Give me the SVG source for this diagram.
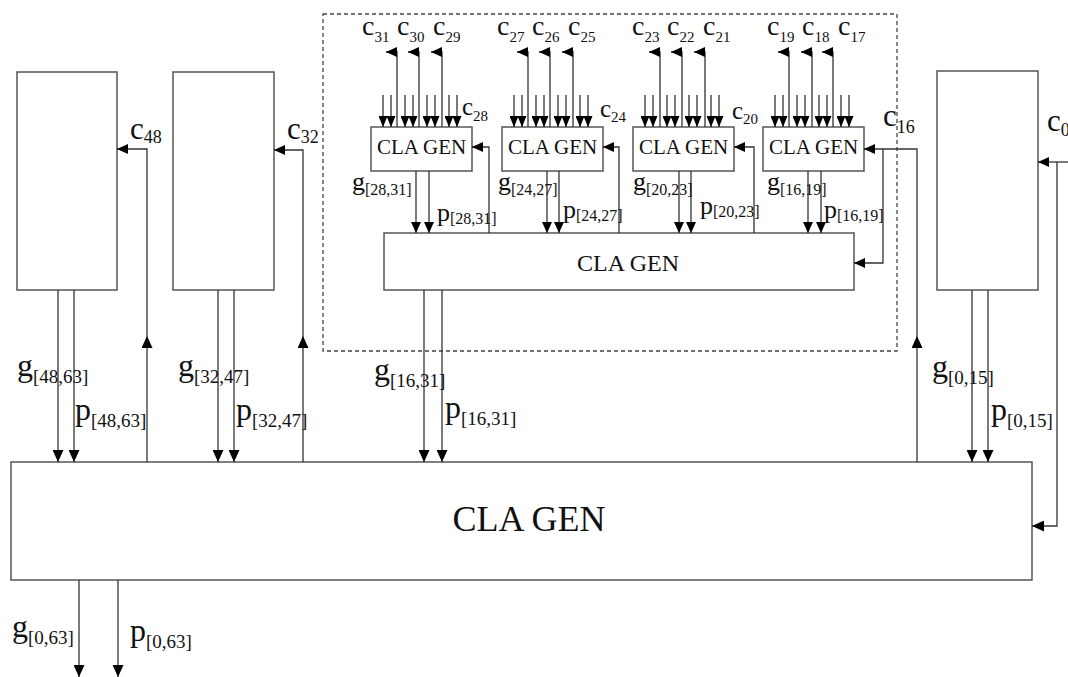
<svg xmlns="http://www.w3.org/2000/svg" width="1068" height="677" viewBox="0 0 1068 677">
<style>
.bx{fill:#fff;stroke:#555;stroke-width:1.5}
.ln{fill:none;stroke:#333;stroke-width:1.3}
.dash{fill:none;stroke:#444;stroke-width:1.3;stroke-dasharray:4 3}
.t{font-family:"Liberation Serif","Times New Roman",serif;fill:#111}
.m{text-anchor:middle}
</style>
<defs>
<marker id="ah" viewBox="0 0 12 11" refX="12" refY="5.5" markerWidth="12" markerHeight="11" markerUnits="userSpaceOnUse" orient="auto"><path d="M0,0 L12,5.5 L0,11 z" fill="#000"/></marker>
<marker id="am" viewBox="0 0 11 10" refX="11" refY="5" markerWidth="11" markerHeight="10" markerUnits="userSpaceOnUse" orient="auto"><path d="M0,0 L11,5 L0,10 z" fill="#000"/></marker>
<marker id="ai" viewBox="0 0 11 9" refX="11" refY="4.5" markerWidth="11" markerHeight="9" markerUnits="userSpaceOnUse" orient="auto"><path d="M0,0 L11,4.5 L0,9 z" fill="#000"/></marker>
</defs>
<rect width="1068" height="677" fill="#fff"/>

<rect id="dashed-group" class="dash" x="323" y="14" width="574" height="337"/>

<g id="block-48-63"><rect class="bx" x="17" y="72" width="100" height="218"/></g>
<g id="block-32-47"><rect class="bx" x="173" y="72" width="101" height="218"/></g>
<g id="block-0-15"><rect class="bx" x="937" y="71" width="101" height="219"/></g>
<g id="cla-main"><rect class="bx" x="11" y="462" width="1021" height="118"/><text class="t m" x="529" y="531" font-size="36">CLA GEN</text></g>
<g id="cla-mid"><rect class="bx" x="384" y="233" width="470" height="57"/><text class="t m" x="628" y="271" font-size="24">CLA GEN</text></g>
<g id="cla-28-31"><rect class="bx" x="371" y="127" width="101" height="44"/><text class="t m" x="421.5" y="154" font-size="21">CLA GEN</text></g>
<g id="cla-24-27"><rect class="bx" x="502" y="127" width="101" height="44"/><text class="t m" x="552.5" y="154" font-size="21">CLA GEN</text></g>
<g id="cla-20-23"><rect class="bx" x="633" y="127" width="101" height="44"/><text class="t m" x="683.5" y="154" font-size="21">CLA GEN</text></g>
<g id="cla-16-19"><rect class="bx" x="763" y="127" width="101" height="44"/><text class="t m" x="813.5" y="154" font-size="21">CLA GEN</text></g>

<g id="connectors">
<!-- inputs to small boxes -->
<path class="ln" marker-end="url(#ai)" d="M383,95V127"/><path class="ln" marker-end="url(#ai)" d="M391,95V127"/>
<path class="ln" marker-end="url(#ai)" d="M405,95V127"/><path class="ln" marker-end="url(#ai)" d="M413,95V127"/>
<path class="ln" marker-end="url(#ai)" d="M427,95V127"/><path class="ln" marker-end="url(#ai)" d="M435,95V127"/>
<path class="ln" marker-end="url(#ai)" d="M449,95V127"/><path class="ln" marker-end="url(#ai)" d="M457,95V127"/>
<path class="ln" marker-end="url(#ai)" d="M514,95V127"/><path class="ln" marker-end="url(#ai)" d="M522,95V127"/>
<path class="ln" marker-end="url(#ai)" d="M536,95V127"/><path class="ln" marker-end="url(#ai)" d="M544,95V127"/>
<path class="ln" marker-end="url(#ai)" d="M558,95V127"/><path class="ln" marker-end="url(#ai)" d="M566,95V127"/>
<path class="ln" marker-end="url(#ai)" d="M580,95V127"/><path class="ln" marker-end="url(#ai)" d="M588,95V127"/>
<path class="ln" marker-end="url(#ai)" d="M645,95V127"/><path class="ln" marker-end="url(#ai)" d="M653,95V127"/>
<path class="ln" marker-end="url(#ai)" d="M667,95V127"/><path class="ln" marker-end="url(#ai)" d="M675,95V127"/>
<path class="ln" marker-end="url(#ai)" d="M689,95V127"/><path class="ln" marker-end="url(#ai)" d="M697,95V127"/>
<path class="ln" marker-end="url(#ai)" d="M711,95V127"/><path class="ln" marker-end="url(#ai)" d="M719,95V127"/>
<path class="ln" marker-end="url(#ai)" d="M775,95V127"/><path class="ln" marker-end="url(#ai)" d="M783,95V127"/>
<path class="ln" marker-end="url(#ai)" d="M797,95V127"/><path class="ln" marker-end="url(#ai)" d="M805,95V127"/>
<path class="ln" marker-end="url(#ai)" d="M819,95V127"/><path class="ln" marker-end="url(#ai)" d="M827,95V127"/>
<path class="ln" marker-end="url(#ai)" d="M841,95V127"/><path class="ln" marker-end="url(#ai)" d="M849,95V127"/>
<!-- carry outputs from small boxes -->
<path class="ln" marker-end="url(#am)" d="M397,127V52H386"/><path class="ln" marker-end="url(#am)" d="M419,127V52H408"/><path class="ln" marker-end="url(#am)" d="M442,127V52H431"/>
<path class="ln" marker-end="url(#am)" d="M528,127V52H517"/><path class="ln" marker-end="url(#am)" d="M550,127V52H539"/><path class="ln" marker-end="url(#am)" d="M573,127V52H562"/>
<path class="ln" marker-end="url(#am)" d="M660,127V52H649"/><path class="ln" marker-end="url(#am)" d="M682,127V52H671"/><path class="ln" marker-end="url(#am)" d="M705,127V52H694"/>
<path class="ln" marker-end="url(#am)" d="M789,127V52H778"/><path class="ln" marker-end="url(#am)" d="M812,127V52H801"/><path class="ln" marker-end="url(#am)" d="M833,127V52H822"/>
<!-- g/p from small boxes to mid box -->
<path class="ln" marker-end="url(#am)" d="M416,171V233"/><path class="ln" marker-end="url(#am)" d="M429,171V233"/>
<path class="ln" marker-end="url(#am)" d="M547,171V233"/><path class="ln" marker-end="url(#am)" d="M559,171V233"/>
<path class="ln" marker-end="url(#am)" d="M679,171V233"/><path class="ln" marker-end="url(#am)" d="M691,171V233"/>
<path class="ln" marker-end="url(#am)" d="M808,171V233"/><path class="ln" marker-end="url(#am)" d="M821,171V233"/>
<!-- carries from mid box to small boxes -->
<path class="ln" marker-end="url(#am)" d="M489,233V147H472"/>
<path class="ln" marker-end="url(#am)" d="M619,233V147H603"/>
<path class="ln" marker-end="url(#am)" d="M754,233V147H734"/>
<!-- c16 -->
<path class="ln" marker-end="url(#ah)" d="M917,462V336"/>
<path class="ln" marker-end="url(#am)" d="M917,336V149H864"/>
<path class="ln" marker-end="url(#am)" d="M883,149V263H854"/>
<!-- c0 -->
<path class="ln" marker-end="url(#am)" d="M1068,162H1038"/>
<path class="ln" marker-end="url(#ah)" d="M1057,162V526H1032"/>
<!-- c48, c32 -->
<path class="ln" marker-end="url(#ah)" d="M147,462V336"/>
<path class="ln" marker-end="url(#am)" d="M147,336V149H117"/>
<path class="ln" marker-end="url(#ah)" d="M303,462V336"/>
<path class="ln" marker-end="url(#am)" d="M303,336V150H274"/>
<!-- g/p to main -->
<path class="ln" marker-end="url(#ah)" d="M58,290V462"/><path class="ln" marker-end="url(#ah)" d="M74,290V462"/>
<path class="ln" marker-end="url(#ah)" d="M218,290V462"/><path class="ln" marker-end="url(#ah)" d="M234,290V462"/>
<path class="ln" marker-end="url(#ah)" d="M424,290V462"/><path class="ln" marker-end="url(#ah)" d="M442,290V462"/>
<path class="ln" marker-end="url(#ah)" d="M972,290V462"/><path class="ln" marker-end="url(#ah)" d="M988,290V462"/>
<!-- outputs -->
<path class="ln" marker-end="url(#ah)" d="M79,580V677"/><path class="ln" marker-end="url(#ah)" d="M118,580V677"/>
</g>

<g id="labels" class="t">
<text x="17" y="376" font-size="32">g<tspan font-size="19" dy="7">[48,63]</tspan></text>
<text x="75" y="420" font-size="32">p<tspan font-size="19" dy="7">[48,63]</tspan></text>
<text x="178" y="376" font-size="32">g<tspan font-size="19" dy="7">[32,47]</tspan></text>
<text x="236" y="420" font-size="32">p<tspan font-size="19" dy="7">[32,47]</tspan></text>
<text x="374" y="380" font-size="32">g<tspan font-size="19" dy="7">[16,31]</tspan></text>
<text x="445" y="418" font-size="32">p<tspan font-size="19" dy="7">[16,31]</tspan></text>
<text x="932" y="377" font-size="32">g<tspan font-size="19" dy="7">[0,15]</tspan></text>
<text x="991" y="420" font-size="32">p<tspan font-size="19" dy="7">[0,15]</tspan></text>
<text x="12" y="637" font-size="32">g<tspan font-size="19" dy="7">[0,63]</tspan></text>
<text x="130" y="641" font-size="32">p<tspan font-size="19" dy="7">[0,63]</tspan></text>
<text x="130" y="139" font-size="31">c<tspan font-size="18" dy="4">48</tspan></text>
<text x="287" y="139" font-size="31">c<tspan font-size="18" dy="4">32</tspan></text>
<text x="883" y="126" font-size="31">c<tspan font-size="18" dy="7">16</tspan></text>
<text x="1047" y="131" font-size="31">c<tspan font-size="18" dy="5">0</tspan></text>
<text x="362" y="35" font-size="28">c<tspan font-size="15" dy="7">31</tspan></text>
<text x="397" y="35" font-size="28">c<tspan font-size="15" dy="7">30</tspan></text>
<text x="433" y="35" font-size="28">c<tspan font-size="15" dy="7">29</tspan></text>
<text x="497" y="35" font-size="28">c<tspan font-size="15" dy="7">27</tspan></text>
<text x="532" y="35" font-size="28">c<tspan font-size="15" dy="7">26</tspan></text>
<text x="568" y="35" font-size="28">c<tspan font-size="15" dy="7">25</tspan></text>
<text x="632" y="35" font-size="28">c<tspan font-size="15" dy="7">23</tspan></text>
<text x="667" y="35" font-size="28">c<tspan font-size="15" dy="7">22</tspan></text>
<text x="703" y="35" font-size="28">c<tspan font-size="15" dy="7">21</tspan></text>
<text x="767" y="35" font-size="28">c<tspan font-size="15" dy="7">19</tspan></text>
<text x="802" y="35" font-size="28">c<tspan font-size="15" dy="7">18</tspan></text>
<text x="838" y="35" font-size="28">c<tspan font-size="15" dy="7">17</tspan></text>
<text x="462" y="115" font-size="25">c<tspan font-size="15" dy="6">28</tspan></text>
<text x="600" y="117" font-size="25">c<tspan font-size="15" dy="5">24</tspan></text>
<text x="732" y="119" font-size="25">c<tspan font-size="15" dy="5">20</tspan></text>
<text x="352" y="190" font-size="26">g<tspan font-size="16" dy="5">[28,31]</tspan></text>
<text x="437" y="221" font-size="26">p<tspan font-size="16" dy="3">[28,31]</tspan></text>
<text x="498" y="190" font-size="26">g<tspan font-size="16" dy="5">[24,27]</tspan></text>
<text x="563" y="218" font-size="26">p<tspan font-size="16" dy="3">[24,27]</tspan></text>
<text x="633" y="190" font-size="26">g<tspan font-size="16" dy="5">[20,23]</tspan></text>
<text x="700" y="214" font-size="26">p<tspan font-size="16" dy="3">[20,23]</tspan></text>
<text x="767" y="190" font-size="26">g<tspan font-size="16" dy="5">[16,19]</tspan></text>
<text x="824" y="218" font-size="26">p<tspan font-size="16" dy="3">[16,19]</tspan></text>
</g>
</svg>
